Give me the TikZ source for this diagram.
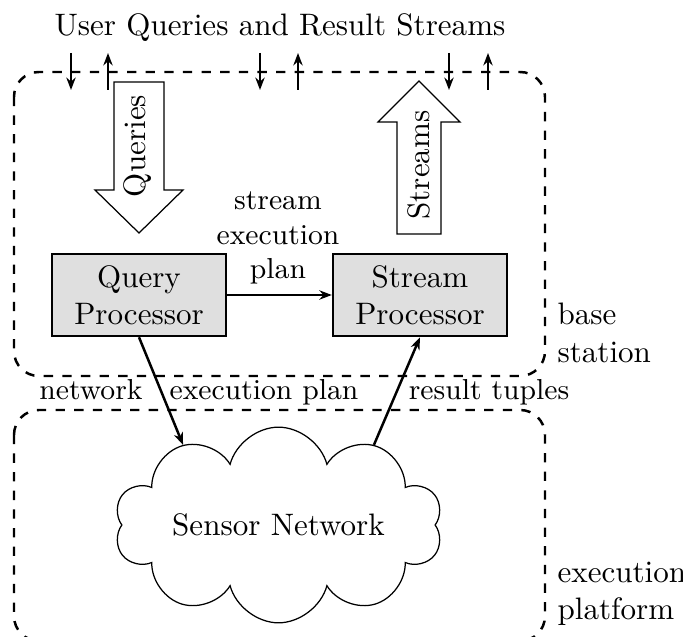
\documentclass[tikz,border=0pt]{standalone}
\usetikzlibrary{arrows.meta,shapes.symbols}
\begin{document}
\begin{tikzpicture}[x=0.322pt,y=-0.322pt,
  proc/.style={draw,thick,fill=gray!25,minimum width=56pt,minimum height=26.4pt,align=center,inner sep=0pt},
  region/.style={draw,thick,dashed,rounded corners=8pt},
  link/.style={thick,-{Stealth[length=4pt,width=3pt]}},
  bigarrow/.style={draw,line width=0.4pt,fill=white},
  lbl/.style={inner sep=0pt},
  edgelbl/.style={inner sep=0pt,font=\fontsize{9.3}{11.2}\selectfont}]
\useasboundingbox (0,0) rectangle (683,637);
\clip (0,0) rectangle (683,637);

% dashed regions: base station and execution platform
\draw[region] (14,72) rectangle (545,376);
\draw[region] (14,410) rectangle (545,641);

% title and the user query / result stream arrows
\node[lbl,anchor=base] (title) at (280,36) {User Queries and Result Streams};
\foreach \x [count=\i] in {71,260,449} {
  \coordinate (qin\i) at (\x,53);
  \coordinate (qend\i) at (\x,90);
  \draw[link] (qin\i) -- (qend\i);
}
\foreach \x [count=\i] in {108,298,488} {
  \coordinate (rsrc\i) at (\x,90);
  \coordinate (rout\i) at (\x,53);
  \draw[link] (rsrc\i) -- (rout\i);
}

% big block arrows
\draw[bigarrow] (114,82) -- (164,82) -- (164,190) -- (183,190) -- (139,233)
  -- (95,190) -- (114,190) -- cycle;
\node[lbl,rotate=90] (qtxt) at (138,146) {Queries};
\draw[bigarrow] (419,81) -- (460,122) -- (441,122) -- (441,234) -- (397,234)
  -- (397,122) -- (378,122) -- cycle;
\node[lbl,rotate=90] (stxt) at (419,165) {Streams};

% processors
\node[proc] (qp) at (139,295) {Query\\Processor};
\node[proc] (sp) at (420,295) {Stream\\Processor};
\draw[link] (qp) -- (sp);
\node[edgelbl,align=center] (plan) at (278,238) {stream\\execution\\plan};

% sensor network
\node[cloud,draw,line width=0.4pt,cloud puffs=10,cloud ignores aspect,minimum width=105pt,minimum height=63pt] (sn) at (278.5,525) {Sensor Network};
\draw[link] (qp.south) -- (sn.140);
\draw[link] (sn.40) -- (sp.south);

% labels
\node[edgelbl,anchor=base] (netl) at (91,400) {network};
\node[edgelbl,anchor=base] (epl) at (264,400) {execution plan};
\node[edgelbl,anchor=base] (rtl) at (489,400) {result tuples};
\node[lbl,anchor=west,align=left] (bs) at (557,333) {base\\station};
\node[lbl,anchor=west,align=left] (ep) at (557,594) {execution\\platform};
\end{tikzpicture}
\end{document}
